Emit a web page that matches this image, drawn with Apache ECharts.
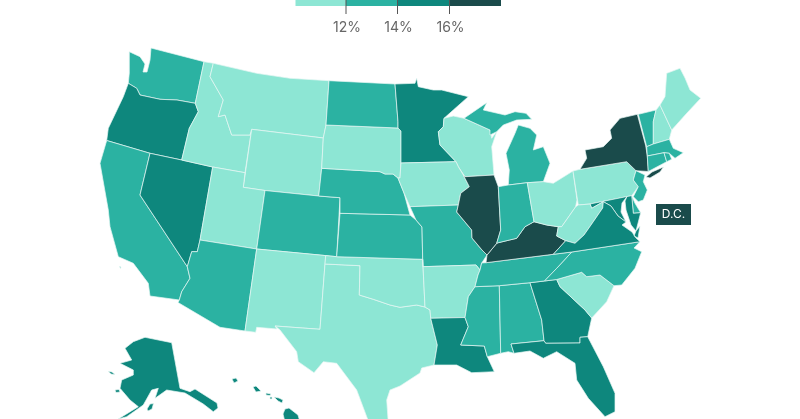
<!DOCTYPE html>
<html>
<head>
<meta charset="utf-8">
<style>html,body{margin:0;padding:0;background:#fff}#main{width:800px;height:419px}</style>
<script src="https://cdn.jsdelivr.net/npm/echarts@6/dist/echarts.min.js"></script>
</head>
<body>
<div id="main"></div>
<script>
// rates, only the bin is really known
var lightStates = ['Idaho','Montana','Wyoming','Utah','New Mexico','Texas','Oklahoma','Arkansas','South Dakota','Iowa','Wisconsin','Ohio','Pennsylvania','West Virginia','South Carolina','New Hampshire','Maine'];
var lightRates = [11,11,11,11,11,11,11,11,11,11,11,11,11,11,11,11,11];
var midStates = ['Washington','California','Arizona','Colorado','North Dakota','Nebraska','Kansas','Missouri','Michigan','Indiana','Tennessee','Mississippi','Alabama','North Carolina','New Jersey','Delaware','Vermont','Massachusetts','Connecticut','Rhode Island'];
var midRates = [13,13,13,13,13,13,13,13,13,13,13,13,13,13,13,13,13,13,13,13];
var darkStates = ['Oregon','Nevada','Minnesota','Louisiana','Georgia','Florida','Virginia','Maryland','Alaska','Hawaii'];
var darkRates = [15,15,15,15,15,15,15,15,15,15];
var darkestStates = ['Illinois','Kentucky','New York'];
var darkestRates = [17,17,17];
var breaks = [12,14,16];
var tickLabels = ['12%','14%','16%'];
var binColors = ['#8de6d4','#2bb2a2','#0e877d','#1a4b4b'];

// outlines in picture pixels, x y pairs. a state can have several rings
var shapes = {
  'Washington':['151 48,204 61.7,195.3 103.3,177 100,160 99.3,140 95,136.7 88.3,128.3 83.3,129.3 73,129.3 51.7,140 56.7,145 64,143 72,147 72,150 60'],
  'Oregon':['128.3 83.3,136.7 88.3,140 95,160 99.3,177 100,195.3 103.3,198.3 111.7,189.3 128.3,181.7 160,150 153.3,106.7 140.5,108.3 128.3,123.3 96.7'],
  'California':['106.7 140.5,150 153.3,140 195,187.3 266.7,190 278.3,181.7 291.7,179.3 300,150 296,148.3 283.3,133.3 263.3,118.3 256.7,110 226.7,108.3 210,100 163.3','119.5 266.5,121 267,120.5 268.5'],
  'Nevada':['150 153.3,181.7 160,212.7 167,200 240,197.3 251.7,191.7 251.7,187.3 266.7,140 195'],
  'Idaho':['204 61.7,213.3 63.3,210 76.7,223.3 100,218.3 116.7,225 115,231.7 135,250 135,251.7 129.3,245 172.7,212.7 167,181.7 160,189.3 128.3,198.3 111.7,195.3 103.3'],
  'Montana':['213.3 63.3,256.7 73.3,290 78.3,329 80.7,326 125,323.3 138,251.7 129.3,250 135,231.7 135,225 115,218.3 116.7,223.3 100,210 76.7'],
  'Wyoming':['251.7 129.3,323.3 138,321.7 168.3,318.7 196,265 190.5,243.3 187.3'],
  'Utah':['212.7 167,245 172.7,243.3 187.3,265 190.5,256.7 249,200 240'],
  'Colorado':['265 190.5,318.7 196,340 197.7,336.7 256.7,325.7 255.6,256.7 249'],
  'Arizona':['200 240,256.7 249,245 331,220 327.3,178 302.5,179.3 300,181.7 291.7,190 278.3,187.3 266.7,191.7 251.7,197.3 251.7'],
  'New Mexico':['256.7 249,325.7 255.6,325 264,320 329.3,275 326,277 329,256.7 327.3,255.7 332.3,245 331'],
  'Texas':['325 264,360 265.7,359.3 295,373.3 299.3,390 305,400 307.3,416.7 305,425 307,430 310,430.7 318.3,437.3 345,434 365,421.7 368,420 373,400 386,390 390,386.7 400,388 419,392 425,370 425,366.7 416.7,356.7 390,336.7 363.3,323.3 361.7,314 372.7,298.3 361.7,296.7 351.7,280 330,275 326,320 329.3'],
  'Oklahoma':['325.7 255.6,336.7 256.7,422.7 259.3,425 307,416.7 305,400 307.3,390 305,373.3 299.3,359.3 295,360 265.7,325 264'],
  'Kansas':['340 213.3,410 215,416 220,422 227,422.7 259.3,336.7 256.7'],
  'Nebraska':['321.7 168.3,380 171.7,385 174,393 174,398 178,404 193,410 215,340 213.3,340 197.7,318.7 196'],
  'South Dakota':['326 125,398 128,401 131,401 160,400 178,398 178,393 174,385 174,380 171.7,321.7 168.3,323.3 138'],
  'North Dakota':['329 80.7,395 84,398 121.7,398 128,326 125'],
  'Minnesota':['395 84,415 83.3,416.7 78.3,418.3 86.7,433.3 90,441.7 90,468.3 96.7,453.3 110,444 118.3,443.3 126.7,438.3 131.7,440 145,456 161.7,401 163,401 131,398 128,398 121.7'],
  'Wisconsin':['444 118.3,453.3 116,464 118.3,490 130,491.7 138.3,497 131,491.7 146.7,494 175,465 176.7,458.3 166.7,456 161.7,440 145,438.3 131.7,443.3 126.7'],
  'Michigan':['464 118.3,486.7 102.7,483.3 110,505 115,515 111.7,526 113.3,531.7 119.3,516.7 120,503.3 125,496.7 131.7,490 135,490 130','518.3 125,530 128.3,536.7 135,533.3 150,543.3 146.7,550 163.3,543.3 181.7,527.3 182.7,508.3 185,509.3 170,506 153.3,515 133.3'],
  'Iowa':['401 163,456 161.7,458.3 166.7,463.3 175,469.3 186.7,460.7 193.3,458.3 205,410 206.7,404 193,398 178,400 178'],
  'Missouri':['410 206.7,458.3 205,456.7 212,471.7 230,472 238,482 250,487 255,481.7 263,480 270,476 265,423 266.7,422.7 259.3,422 227,416 220'],
  'Arkansas':['423 266.7,476 265,480 270,478 275,475 286.7,468.3 296.7,465 317.5,430.7 318.3,430 310,425 307,422.7 259.3'],
  'Louisiana':['430.7 318.3,465 317.5,468.3 326.7,460.7 345,484.3 346,487.3 356.7,494.3 371.7,471.7 372.7,456.7 365,434 365,437.3 345'],
  'Mississippi':['475 286.7,499.3 285.7,500.7 353.3,487.3 356.7,484.3 346,460.7 345,468.3 326.7,465 317.5,468.3 296.7'],
  'Alabama':['499.3 285.7,530 282.7,541.7 320,544 340.7,511 344,514 353.3,508.3 351.7,500.7 353.3'],
  'Georgia':['530 282.7,544.3 281,556.7 279.5,560 286.7,585 310,591.7 318,587.7 336.7,580 337.3,580 343,545.7 343.3,544 340.7,541.7 320'],
  'Florida':['511 344,544 340.7,545.7 343.3,580 343,580 337.3,587.7 336.7,603.3 366.7,615 393.3,615 411.7,605 416.7,588.3 398.3,576.7 380,575 363.3,556.7 351.7,543.3 358.3,530 351,514 353.3'],
  'South Carolina':['556.7 279.5,581.7 272.3,586.7 276.7,600 275,614 285.7,606.7 301.7,591.7 318,585 310,560 286.7'],
  'North Carolina':['544.3 281,556.7 268.3,571.7 252,640 241.7,634 248,641.7 251.7,635 268.3,621.7 285,614 285.7,600 275,586.7 276.7,581.7 272.3,556.7 279.5'],
  'Tennessee':['486 262.7,553.3 254.3,571.7 252,556.7 268.3,544.3 281,530 282.7,499.3 285.7,475 286.7,478 275,480 270,481.7 263'],
  'Kentucky':['486 262.7,487 255,496.7 243.3,498.3 242.7,516.7 238.3,525 226.7,534 221.7,546.7 225,558.3 226.7,556.7 236,565.7 240.7,553.3 254.3'],
  'Illinois':['465 176.7,494 175,498.3 186.7,500.7 230,496.7 243.3,487 255,482 250,472 238,471.7 230,456.7 212,458.3 205,460.7 193.3,469.3 186.7,463.3 175'],
  'Indiana':['498.3 186.7,508.3 185,527.3 182.7,534 221.7,525 226.7,516.7 238.3,498.3 242.7,496.7 243.3,500.7 230'],
  'Ohio':['527.3 182.7,543.3 181.7,553.3 183.3,573 171,577 200,575.5 207,561.7 226.7,558.3 226.7,546.7 225,534 221.7'],
  'Pennsylvania':['573 171,580 169.3,626.7 161.7,636 170.7,633.3 180,638.3 186.7,631.7 195.7,590 204,578.3 205'],
  'New York':['580 169.3,586.7 158.3,585 150,603.3 146.7,611.7 138.3,610 130,620 118.3,637.3 114.3,645.7 145.7,647.3 156,648.3 171.5,636 170.7,626.7 161.7','646 177,652 172,663.5 167,660 172,650 178'],
  'Vermont':['638.3 114.3,656 110,653.3 121.7,653.3 144,646.7 146.7,645.7 145.7'],
  'New Hampshire':['656 110,660 105,671.7 130,669.3 139.3,653.3 144,653.3 121.7'],
  'Maine':['660 105,665 96.7,666.7 73.3,680 68.3,685 78,690 90,700.7 98.3,686.7 113.3,671.7 130'],
  'Massachusetts':['646.7 146.7,653.3 144,669.3 139.3,673.3 148.3,683.3 152.7,675 158.3,669.3 153.3,664 152.7,647.3 156'],
  'Connecticut':['647.3 156,664 152.7,666.7 161.7,648.3 171.5'],
  'Rhode Island':['664 152.7,669.3 153.3,671.7 159.3,666.7 161.7'],
  'New Jersey':['636 170.7,645 175,643.3 181.7,647.3 190,643.3 200,638.3 201.7,633.3 196.7,638.3 186.7,633.3 180'],
  'Delaware':['631.7 195.7,635 203.3,640.7 212.7,633.3 213.3'],
  'Maryland':['590 204,627 196.5,622 203,621 212,626 222,618 216,611 206,603.3 201.7,591.7 208.3','627 196.5,631.7 195.7,633.3 213.3,640.7 212.7,636 231,631 225,626 210,625 201'],
  'West Virginia':['575.5 207,578.3 205,590 204,591.7 208.3,603.3 201.7,602.7 208,593.3 221.7,584 235,575 243.3,565.7 240.7,556.7 236,558.3 226.7,561.7 226.7'],
  'Virginia':['553.3 254.3,565.7 240.7,575 243.3,584 235,593.3 221.7,602.7 208,603.3 201.7,611 206,618 216,626 222,622 225,632 232,636 238,640 241.7,571.7 252','636 231,640 226,638 238,634 236'],
  'Alaska':['145 337.3,171.7 342.7,180 388.3,190 391.7,195 389,217 403,218 408,213.3 411.7,203.3 404,185 393,166.7 390,155 398.3,158.3 388.3,151.7 390,143.3 405,126.7 416.7,118.3 419,138.3 406.7,130 400,120 388.3,121.7 380,133.3 375,133.3 370,120 363.3,131.7 360,125 348.3,133.3 341.7','108.3 371.5,112 372,115 374.5,111 374','115 390,119 389.5,120 392,116 392.5','147 409,150 404,153.5 403.5,152 409,148 411'],
  'Hawaii':['232 379,236 378,238 381,234 383','253 387,256 386,261 391,256 392','266 393,271 394,270 395.5,266 395','270 397,272 397,272 399,270 399','274 397,279 398,283 400,282 403,278 401','285 409,289 408,298 415,300 422,285 422,283 414']
};

var geoFeatures = [];
Object.keys(shapes).forEach(function(name) {
  var rings = shapes[name].map(function(r) {
    var pts = r.split(',').map(function(p) {
      var xy = p.split(' ');
      return [+xy[0], -xy[1]];
    });
    pts.push(pts[0]);
    return [pts];
  });
  geoFeatures.push({type: 'Feature', properties: {name: name}, geometry: {type: 'MultiPolygon', coordinates: rings}});
});
echarts.registerMap('usa', {type: 'FeatureCollection', features: geoFeatures});

function toData(names, vals) {
  return names.map(function(n, i) { return {name: n, value: vals[i]}; });
}
var mapData = toData(lightStates, lightRates)
  .concat(toData(midStates, midRates), toData(darkStates, darkRates), toData(darkestStates, darkestRates));

// legend strip
var legendX = [295.5, 346, 397.5, 449.5, 501];
var legendItems = [];
binColors.forEach(function(c, i) {
  legendItems.push({type: 'rect', silent: true, shape: {x: legendX[i], y: 0, width: legendX[i + 1] - legendX[i], height: 6}, style: {fill: c}});
});
tickLabels.forEach(function(t, i) {
  legendItems.push({type: 'line', silent: true, shape: {x1: legendX[i + 1], y1: 0, x2: legendX[i + 1], y2: 14}, style: {stroke: '#555', lineWidth: 1}});
  legendItems.push({type: 'text', silent: true, style: {text: t, x: legendX[i + 1] + 1, y: 28, align: 'center', verticalAlign: 'middle', fill: '#666', font: '14px Inter'}});
});
legendItems.push({type: 'rect', silent: true, shape: {x: 656, y: 204, width: 35, height: 21}, style: {fill: binColors[3]}});
legendItems.push({type: 'text', silent: true, style: {text: 'D.C.', x: 673.5, y: 214.5, align: 'center', verticalAlign: 'middle', fill: '#fff', font: '12px Inter'}});

var myChart = echarts.init(document.getElementById('main'), null, {renderer: 'canvas'});
myChart.setOption({
  animation: false,
  backgroundColor: '#fff',
  visualMap: {
    show: false,
    type: 'piecewise',
    pieces: [
      {lt: breaks[0], color: binColors[0]},
      {gte: breaks[0], lt: breaks[1], color: binColors[1]},
      {gte: breaks[1], lt: breaks[2], color: binColors[2]},
      {gte: breaks[2], color: binColors[3]}
    ]
  },
  graphic: legendItems,
  series: [{
    type: 'map',
    map: 'usa',
    silent: true,
    roam: false,
    aspectScale: 1,
    boundingCoords: [[0, 0], [800, -419]],
    left: 0,
    top: 0,
    width: 800,
    height: 419,
    label: {show: false},
    itemStyle: {borderColor: '#e6f7f3', borderWidth: 0.7},
    data: mapData
  }]
});
</script>
</body>
</html>
